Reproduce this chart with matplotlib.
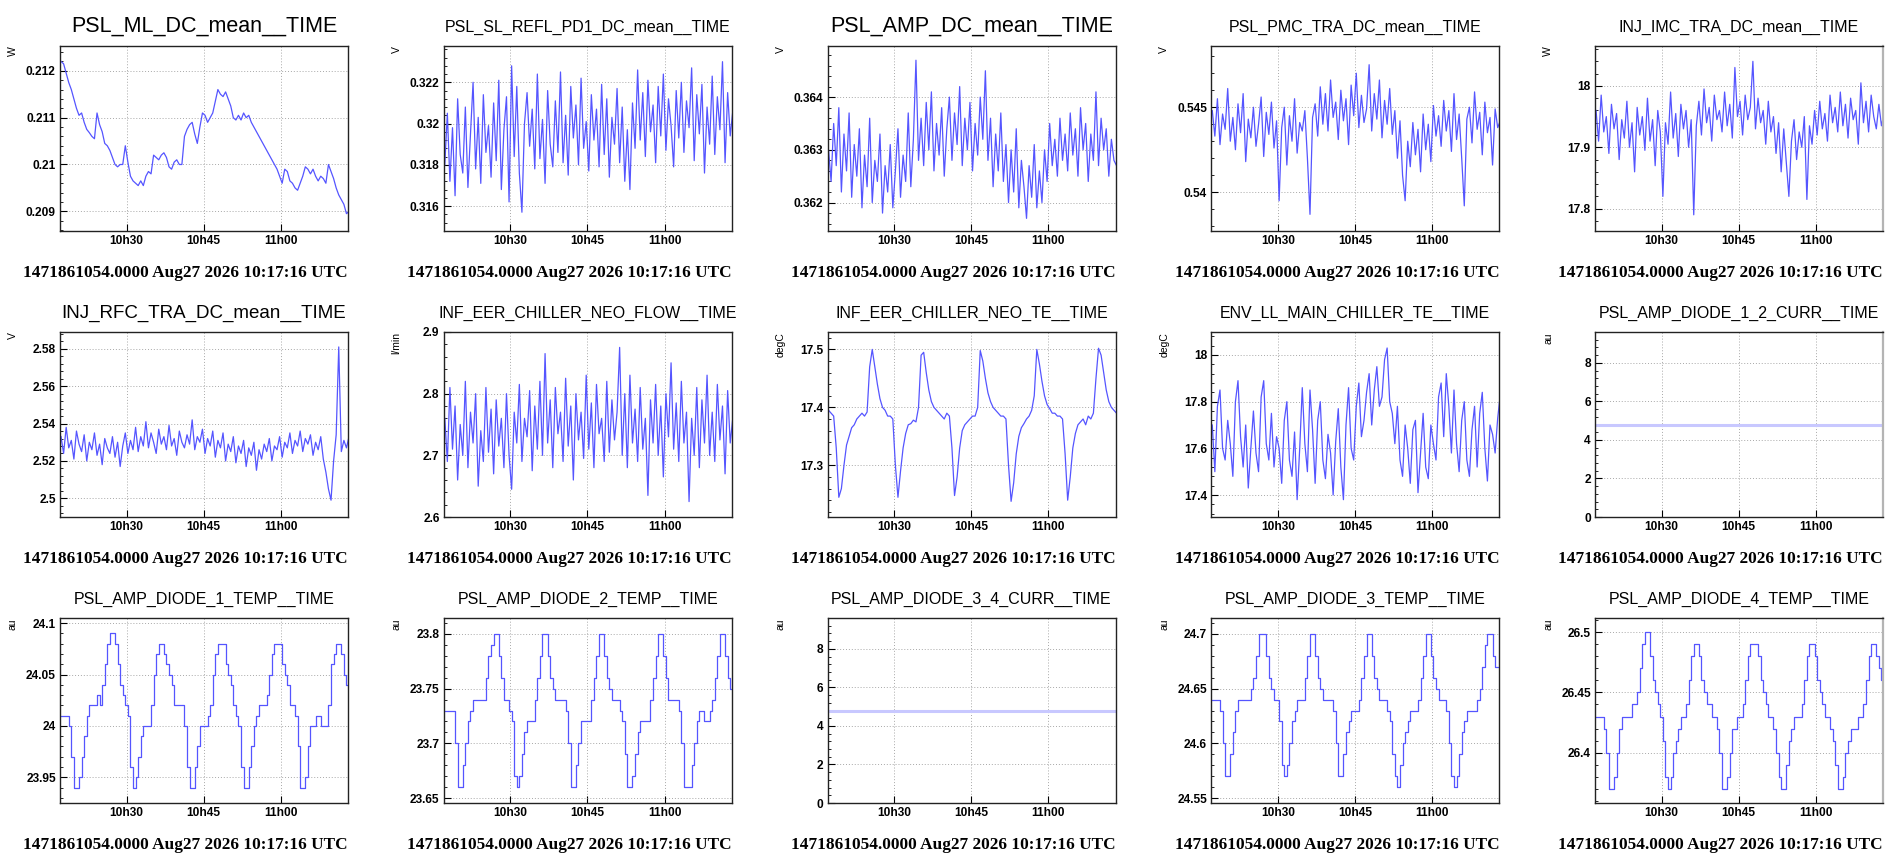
import numpy as np
import matplotlib
matplotlib.use("Agg")
from matplotlib import pyplot as plt
from matplotlib.ticker import FixedLocator, AutoMinorLocator

W, H = 1897, 860
footer = "1471861054.0000 Aug27 2026 10:17:16 UTC"
start_time = (10, 17, 16)
time_ticks = ["10h30", "10h45", "11h00"]

# sample times in minutes after 10:17:16
t = np.arange(0, 56.01, 0.5)

ml_dc = [0.21220, 0.21215, 0.21195, 0.21175, 0.21160, 0.21140, 0.21120, 0.21105, 0.21110, 0.21090,
         0.21075, 0.21068, 0.21060, 0.21055, 0.21110, 0.21085, 0.21070, 0.21045, 0.21040, 0.21030,
         0.21015, 0.21000, 0.20995, 0.21000, 0.21000, 0.21040, 0.21005, 0.20975, 0.20965, 0.20960,
         0.20955, 0.20965, 0.20955, 0.20975, 0.20985, 0.20980, 0.21020, 0.21015, 0.21010, 0.21020,
         0.21025, 0.21015, 0.20995, 0.20990, 0.21005, 0.21010, 0.21000, 0.21000, 0.21060, 0.21075,
         0.21085, 0.21090, 0.21065, 0.21045, 0.21080, 0.21110, 0.21105, 0.21090, 0.21100, 0.21110,
         0.21135, 0.21160, 0.21150, 0.21145, 0.21155, 0.21140, 0.21125, 0.21100, 0.21095, 0.21105,
         0.21095, 0.21110, 0.21100, 0.21105, 0.21090, 0.21080, 0.21070, 0.21060, 0.21050, 0.21040,
         0.21030, 0.21020, 0.21010, 0.21000, 0.20990, 0.20975, 0.20960, 0.20990, 0.20985, 0.20965,
         0.20960, 0.20950, 0.20945, 0.20960, 0.20975, 0.20995, 0.20990, 0.20980, 0.20990, 0.20975,
         0.20965, 0.20975, 0.20970, 0.20960, 0.21000, 0.20985, 0.20970, 0.20950, 0.20935, 0.20925,
         0.20915, 0.20895, 0.20900]

sl_refl = [0.3180, 0.3205, 0.3172, 0.3198, 0.3165, 0.3212, 0.3185, 0.3176, 0.3208, 0.3169,
           0.3195, 0.3220, 0.3178, 0.3203, 0.3171, 0.3214, 0.3186, 0.3199, 0.3174, 0.3210,
           0.3182, 0.3221, 0.3168, 0.3197, 0.3213, 0.3162, 0.3228, 0.3184, 0.3218, 0.3176,
           0.3157, 0.3200, 0.3215, 0.3189, 0.3207, 0.3178, 0.3224, 0.3183, 0.3202, 0.3171,
           0.3216, 0.3190, 0.3179, 0.3211, 0.3186, 0.3225, 0.3181, 0.3204, 0.3175, 0.3218,
           0.3193, 0.3209, 0.3180, 0.3222, 0.3188, 0.3201, 0.3177, 0.3214, 0.3192, 0.3207,
           0.3179, 0.3219, 0.3185, 0.3212, 0.3174, 0.3203, 0.3190, 0.3217, 0.3181, 0.3208,
           0.3172, 0.3197, 0.3168, 0.3210, 0.3188, 0.3226, 0.3192, 0.3215, 0.3184, 0.3221,
           0.3196, 0.3209, 0.3181, 0.3218, 0.3194, 0.3224, 0.3187, 0.3212, 0.3199, 0.3179,
           0.3216, 0.3193, 0.3220, 0.3186, 0.3211, 0.3198, 0.3227, 0.3182, 0.3214, 0.3195,
           0.3219, 0.3176, 0.3208, 0.3190, 0.3223, 0.3185, 0.3213, 0.3197, 0.3230, 0.3181,
           0.3215, 0.3194, 0.3206]

amp_dc = [0.3630, 0.3624, 0.3635, 0.3627, 0.3638, 0.3622, 0.3633, 0.3626, 0.3637, 0.3621,
          0.3631, 0.3625, 0.3634, 0.3619, 0.3629, 0.3623, 0.3636, 0.3620, 0.3628, 0.3624,
          0.3633, 0.3618, 0.3627, 0.3622, 0.3631, 0.3619, 0.3626, 0.3634, 0.3621, 0.3629,
          0.3624, 0.3637, 0.3623, 0.3632, 0.3647, 0.3628, 0.3636, 0.3627, 0.3639, 0.3630,
          0.3641, 0.3626, 0.3635, 0.3629, 0.3638, 0.3625, 0.3634, 0.3640, 0.3628, 0.3637,
          0.3631, 0.3642, 0.3627, 0.3636, 0.3630, 0.3639, 0.3626, 0.3635, 0.3629, 0.3640,
          0.3632, 0.3645, 0.3628, 0.3636, 0.3623, 0.3633, 0.3626, 0.3637, 0.3624, 0.3631,
          0.3620, 0.3630, 0.3622, 0.3634, 0.3619, 0.3628, 0.3623, 0.3617, 0.3627, 0.3621,
          0.3631, 0.3619, 0.3626, 0.3620, 0.3630, 0.3624, 0.3635, 0.3627, 0.3632, 0.3625,
          0.3636, 0.3628, 0.3633, 0.3626, 0.3637, 0.3629, 0.3634, 0.3625, 0.3638, 0.3630,
          0.3635, 0.3624, 0.3633, 0.3628, 0.3641, 0.3627, 0.3636, 0.3630, 0.3634, 0.3625,
          0.3632, 0.3628, 0.3627]

pmc_tra = [0.5448, 0.5433, 0.5455, 0.5428, 0.5446, 0.5437, 0.5461, 0.5430, 0.5444, 0.5425,
           0.5452, 0.5435, 0.5458, 0.5418, 0.5443, 0.5432, 0.5450, 0.5427, 0.5440, 0.5456,
           0.5421, 0.5447, 0.5434, 0.5453, 0.5426, 0.5442, 0.5395, 0.5438, 0.5450, 0.5416,
           0.5445, 0.5430, 0.5455, 0.5423, 0.5441, 0.5436, 0.5448, 0.5420, 0.5387, 0.5444,
           0.5452, 0.5433, 0.5462, 0.5440, 0.5458, 0.5436, 0.5466, 0.5444, 0.5453, 0.5431,
           0.5460, 0.5442, 0.5455, 0.5428, 0.5463, 0.5445, 0.5470, 0.5438, 0.5457, 0.5441,
           0.5449, 0.5475, 0.5436, 0.5458, 0.5443, 0.5466, 0.5432, 0.5454, 0.5440, 0.5461,
           0.5434, 0.5448, 0.5420, 0.5442, 0.5410, 0.5395, 0.5430, 0.5415, 0.5441, 0.5422,
           0.5437, 0.5412, 0.5446, 0.5425, 0.5440, 0.5418, 0.5451, 0.5433, 0.5445, 0.5427,
           0.5454, 0.5436, 0.5448, 0.5424, 0.5458, 0.5431, 0.5446, 0.5420, 0.5392, 0.5443,
           0.5450, 0.5429, 0.5459, 0.5437, 0.5447, 0.5422, 0.5453, 0.5435, 0.5444, 0.5416,
           0.5449, 0.5438, 0.5442]

imc_tra = [17.960, 17.910, 17.985, 17.925, 17.950, 17.890, 17.970, 17.930, 17.955, 17.880,
           17.945, 17.915, 17.975, 17.900, 17.940, 17.860, 17.965, 17.920, 17.950, 17.895,
           17.980, 17.910, 17.945, 17.870, 17.960, 17.925, 17.820, 17.940, 17.905, 17.990,
           17.915, 17.955, 17.885, 17.970, 17.930, 17.960, 17.900, 17.945, 17.790, 17.935,
           17.975, 17.920, 17.995, 17.940, 17.965, 17.910, 17.985, 17.945, 17.960, 17.925,
           17.990, 17.935, 17.970, 17.915, 18.030, 17.950, 17.975, 17.920, 17.985, 17.945,
           17.965, 18.040, 17.930, 17.980, 17.940, 17.960, 17.905, 17.975, 17.925, 17.950,
           17.890, 17.940, 17.860, 17.930, 17.875, 17.820, 17.910, 17.945, 17.880, 17.925,
           17.900, 17.950, 17.815, 17.935, 17.905, 17.960, 17.920, 17.975, 17.930, 17.955,
           17.910, 17.985, 17.940, 17.965, 17.925, 17.990, 17.935, 17.970, 17.915, 17.980,
           17.945, 17.960, 17.905, 18.005, 17.940, 17.975, 17.925, 17.985, 17.950, 17.930,
           17.970, 17.935, 17.955]

rfc_tra = [2.533, 2.524, 2.538, 2.527, 2.531, 2.521, 2.536, 2.529, 2.525, 2.534,
           2.520, 2.530, 2.526, 2.535, 2.523, 2.529, 2.518, 2.532, 2.527, 2.524,
           2.533, 2.522, 2.530, 2.517, 2.528, 2.535, 2.524, 2.531, 2.526, 2.538,
           2.525, 2.533, 2.528, 2.541, 2.527, 2.535, 2.530, 2.524, 2.537, 2.529,
           2.533, 2.526, 2.539, 2.528, 2.532, 2.523, 2.536, 2.530, 2.527, 2.534,
           2.529, 2.542, 2.526, 2.533, 2.530, 2.537, 2.524, 2.532, 2.528, 2.536,
           2.522, 2.531, 2.527, 2.535, 2.520, 2.529, 2.525, 2.533, 2.519, 2.528,
           2.524, 2.531, 2.517, 2.527, 2.523, 2.530, 2.515, 2.526, 2.521, 2.529,
           2.525, 2.532, 2.520, 2.528, 2.526, 2.533, 2.522, 2.530, 2.527, 2.535,
           2.524, 2.531, 2.528, 2.536, 2.525, 2.532, 2.529, 2.534, 2.523, 2.530,
           2.526, 2.533, 2.521, 2.514, 2.505, 2.499, 2.520, 2.534, 2.581, 2.525,
           2.531, 2.527, 2.533]

neo_flow = [2.760, 2.690, 2.810, 2.710, 2.780, 2.660, 2.750, 2.700, 2.820, 2.680,
            2.770, 2.720, 2.800, 2.650, 2.740, 2.690, 2.810, 2.705, 2.775, 2.670,
            2.790, 2.715, 2.760, 2.680, 2.800, 2.700, 2.645, 2.770, 2.720, 2.815,
            2.690, 2.760, 2.730, 2.805, 2.675, 2.780, 2.710, 2.820, 2.700, 2.865,
            2.720, 2.790, 2.680, 2.810, 2.735, 2.770, 2.690, 2.825, 2.715, 2.780,
            2.660, 2.800, 2.725, 2.770, 2.695, 2.830, 2.710, 2.785, 2.680, 2.815,
            2.735, 2.760, 2.690, 2.820, 2.705, 2.790, 2.725, 2.770, 2.875, 2.700,
            2.800, 2.680, 2.830, 2.720, 2.775, 2.690, 2.810, 2.710, 2.760, 2.635,
            2.790, 2.720, 2.815, 2.700, 2.780, 2.665, 2.800, 2.730, 2.850, 2.710,
            2.785, 2.690, 2.820, 2.720, 2.770, 2.625, 2.760, 2.700, 2.810, 2.680,
            2.790, 2.720, 2.830, 2.700, 2.770, 2.690, 2.815, 2.725, 2.780, 2.670,
            2.805, 2.720, 2.760]

neo_te = [17.395, 17.390, 17.385, 17.330, 17.245, 17.260, 17.300, 17.335, 17.350, 17.365,
          17.370, 17.380, 17.385, 17.390, 17.385, 17.392, 17.470, 17.500, 17.470, 17.440,
          17.415, 17.400, 17.395, 17.385, 17.385, 17.380, 17.300, 17.245, 17.290, 17.330,
          17.355, 17.370, 17.372, 17.378, 17.375, 17.400, 17.490, 17.495, 17.460, 17.430,
          17.410, 17.400, 17.395, 17.390, 17.385, 17.380, 17.390, 17.385, 17.330, 17.248,
          17.280, 17.330, 17.360, 17.370, 17.375, 17.380, 17.385, 17.385, 17.400, 17.498,
          17.480, 17.450, 17.425, 17.410, 17.400, 17.395, 17.390, 17.385, 17.385, 17.380,
          17.300, 17.238, 17.270, 17.320, 17.350, 17.365, 17.372, 17.380, 17.385, 17.395,
          17.420, 17.500, 17.475, 17.445, 17.420, 17.405, 17.398, 17.390, 17.390, 17.385,
          17.385, 17.380, 17.320, 17.240, 17.280, 17.330, 17.355, 17.370, 17.375, 17.380,
          17.370, 17.385, 17.380, 17.390, 17.450, 17.502, 17.490, 17.460, 17.430, 17.410,
          17.400, 17.395, 17.390]

main_chiller_te = [17.70, 17.50, 17.78, 17.85, 17.60, 17.55, 17.72, 17.62, 17.48, 17.80,
                   17.89, 17.65, 17.52, 17.70, 17.43, 17.60, 17.76, 17.58, 17.50, 17.82,
                   17.89, 17.62, 17.55, 17.75, 17.52, 17.65, 17.60, 17.45, 17.72, 17.80,
                   17.55, 17.48, 17.67, 17.38, 17.60, 17.86, 17.62, 17.50, 17.85, 17.68,
                   17.45, 17.72, 17.80, 17.55, 17.47, 17.66, 17.58, 17.40, 17.63, 17.77,
                   17.52, 17.38, 17.70, 17.86, 17.60, 17.55, 17.78, 17.88, 17.65, 17.72,
                   17.84, 17.92, 17.70, 17.85, 17.95, 17.78, 17.82, 17.98, 18.03, 17.80,
                   17.75, 17.62, 17.78, 17.55, 17.48, 17.70, 17.60, 17.45, 17.68, 17.72,
                   17.41, 17.58, 17.75, 17.52, 17.47, 17.70, 17.62, 17.55, 17.82, 17.88,
                   17.65, 17.92, 17.78, 17.58, 17.85, 17.62, 17.50, 17.72, 17.80, 17.55,
                   17.48, 17.68, 17.78, 17.52, 17.75, 17.84, 17.60, 17.46, 17.70, 17.66,
                   17.58, 17.73, 17.83]

diode_12_curr = [4.8, 4.8]
diode_34_curr = [4.8, 4.8]
curr_t = [0, 56]

diode_1_temp = [24.01, 24.01, 24.01, 24.00, 23.97, 23.94, 23.94, 23.95, 23.97, 23.99,
                24.01, 24.02, 24.02, 24.02, 24.03, 24.02, 24.04, 24.06, 24.08, 24.09,
                24.09, 24.08, 24.06, 24.04, 24.03, 24.02, 24.01, 23.96, 23.94, 23.95,
                23.97, 23.99, 24.00, 24.00, 24.00, 24.02, 24.05, 24.07, 24.08, 24.08,
                24.07, 24.06, 24.05, 24.04, 24.02, 24.02, 24.02, 24.02, 24.00, 23.96,
                23.94, 23.94, 23.96, 23.98, 24.00, 24.00, 24.00, 24.01, 24.02, 24.05,
                24.07, 24.08, 24.08, 24.08, 24.06, 24.05, 24.04, 24.02, 24.01, 24.00,
                23.96, 23.94, 23.94, 23.96, 23.98, 24.00, 24.01, 24.02, 24.02, 24.02,
                24.03, 24.05, 24.07, 24.08, 24.08, 24.08, 24.06, 24.05, 24.04, 24.02,
                24.02, 24.01, 23.98, 23.94, 23.94, 23.95, 23.98, 24.00, 24.00, 24.01,
                24.01, 24.00, 24.00, 24.00, 24.02, 24.06, 24.07, 24.08, 24.08, 24.07,
                24.05, 24.04, 24.03]

diode_2_temp = [23.73, 23.73, 23.73, 23.73, 23.70, 23.66, 23.66, 23.68, 23.70, 23.72,
                23.73, 23.74, 23.74, 23.74, 23.74, 23.74, 23.76, 23.78, 23.79, 23.80,
                23.80, 23.78, 23.76, 23.74, 23.74, 23.73, 23.72, 23.67, 23.66, 23.67,
                23.69, 23.71, 23.72, 23.72, 23.72, 23.74, 23.76, 23.78, 23.80, 23.80,
                23.78, 23.76, 23.75, 23.74, 23.74, 23.74, 23.74, 23.73, 23.70, 23.66,
                23.66, 23.68, 23.70, 23.72, 23.72, 23.72, 23.72, 23.74, 23.76, 23.78,
                23.80, 23.80, 23.78, 23.76, 23.75, 23.74, 23.74, 23.74, 23.73, 23.72,
                23.69, 23.66, 23.66, 23.67, 23.69, 23.71, 23.72, 23.72, 23.72, 23.72,
                23.74, 23.76, 23.78, 23.80, 23.80, 23.78, 23.76, 23.74, 23.74, 23.74,
                23.74, 23.73, 23.70, 23.66, 23.66, 23.66, 23.68, 23.70, 23.72, 23.73,
                23.73, 23.72, 23.72, 23.73, 23.74, 23.76, 23.78, 23.80, 23.80, 23.78,
                23.76, 23.75, 23.75]

diode_3_temp = [24.64, 24.64, 24.64, 24.63, 24.60, 24.57, 24.57, 24.59, 24.61, 24.63,
                24.64, 24.64, 24.64, 24.64, 24.64, 24.65, 24.66, 24.68, 24.70, 24.70,
                24.70, 24.68, 24.66, 24.65, 24.64, 24.64, 24.62, 24.58, 24.57, 24.58,
                24.60, 24.62, 24.63, 24.64, 24.64, 24.64, 24.66, 24.68, 24.70, 24.70,
                24.68, 24.66, 24.65, 24.64, 24.64, 24.64, 24.64, 24.63, 24.60, 24.57,
                24.57, 24.59, 24.61, 24.62, 24.63, 24.63, 24.63, 24.64, 24.66, 24.68,
                24.70, 24.70, 24.68, 24.66, 24.65, 24.64, 24.64, 24.64, 24.63, 24.62,
                24.59, 24.57, 24.56, 24.58, 24.60, 24.61, 24.62, 24.63, 24.63, 24.63,
                24.64, 24.66, 24.68, 24.70, 24.70, 24.68, 24.66, 24.65, 24.64, 24.64,
                24.64, 24.63, 24.60, 24.57, 24.56, 24.57, 24.59, 24.61, 24.62, 24.63,
                24.63, 24.63, 24.63, 24.64, 24.65, 24.67, 24.69, 24.70, 24.70, 24.68,
                24.67, 24.67, 24.67]

diode_4_temp = [26.43, 26.43, 26.43, 26.42, 26.40, 26.37, 26.37, 26.38, 26.40, 26.42,
                26.43, 26.43, 26.43, 26.43, 26.44, 26.44, 26.45, 26.47, 26.49, 26.50,
                26.50, 26.48, 26.46, 26.45, 26.44, 26.43, 26.41, 26.38, 26.37, 26.38,
                26.40, 26.41, 26.42, 26.43, 26.43, 26.44, 26.46, 26.48, 26.49, 26.49,
                26.48, 26.46, 26.45, 26.44, 26.44, 26.43, 26.43, 26.42, 26.40, 26.37,
                26.37, 26.38, 26.40, 26.42, 26.42, 26.43, 26.43, 26.44, 26.46, 26.48,
                26.49, 26.49, 26.49, 26.48, 26.46, 26.45, 26.44, 26.43, 26.43, 26.42,
                26.40, 26.38, 26.37, 26.37, 26.39, 26.41, 26.42, 26.43, 26.43, 26.43,
                26.44, 26.46, 26.48, 26.49, 26.49, 26.48, 26.46, 26.45, 26.44, 26.43,
                26.43, 26.42, 26.41, 26.39, 26.37, 26.37, 26.38, 26.40, 26.41, 26.42,
                26.42, 26.42, 26.43, 26.43, 26.44, 26.46, 26.48, 26.49, 26.49, 26.48,
                26.47, 26.46, 26.46]

titles = ["PSL_ML_DC_mean__TIME", "PSL_SL_REFL_PD1_DC_mean__TIME", "PSL_AMP_DC_mean__TIME",
          "PSL_PMC_TRA_DC_mean__TIME", "INJ_IMC_TRA_DC_mean__TIME",
          "INJ_RFC_TRA_DC_mean__TIME", "INF_EER_CHILLER_NEO_FLOW__TIME", "INF_EER_CHILLER_NEO_TE__TIME",
          "ENV_LL_MAIN_CHILLER_TE__TIME", "PSL_AMP_DIODE_1_2_CURR__TIME",
          "PSL_AMP_DIODE_1_TEMP__TIME", "PSL_AMP_DIODE_2_TEMP__TIME", "PSL_AMP_DIODE_3_4_CURR__TIME",
          "PSL_AMP_DIODE_3_TEMP__TIME", "PSL_AMP_DIODE_4_TEMP__TIME"]
units = ["W", "V", "V", "V", "W",
         "V", "l/min", "degC", "degC", "au",
         "au", "au", "au", "au", "au"]

# (y values, kind, ylim, major step, title size)
panels = [
    (ml_dc, "line", (0.20858, 0.21253), 0.001, 15.5),
    (sl_refl, "line", (0.31479, 0.32376), 0.002, 11.5),
    (amp_dc, "line", (0.36146, 0.36497), 0.001, 15.5),
    (pmc_tra, "line", (0.53772, 0.54860), 0.005, 11.5),
    (imc_tra, "line", (17.7636, 18.065), 0.1, 11.5),
    (rfc_tra, "line", (2.490, 2.589), 0.02, 13.5),
    (neo_flow, "line", (2.6, 2.9), 0.1, 11.5),
    (neo_te, "line", (17.211, 17.530), 0.1, 11.5),
    (main_chiller_te, "line", (17.3058, 18.0985), 0.2, 11.5),
    (diode_12_curr, "const", (0, 9.6), 2, 11.5),
    (diode_1_temp, "step", (23.925, 24.105), 0.05, 11.5),
    (diode_2_temp, "step", (23.6457, 23.8143), 0.05, 11.5),
    (diode_34_curr, "const", (0, 9.6), 2, 11.5),
    (diode_3_temp, "step", (24.5457, 24.7143), 0.05, 11.5),
    (diode_4_temp, "step", (26.358, 26.512), 0.05, 11.5),
]

def minutes(label):
    h, m = label.split("h")
    return (int(h) * 60 + int(m)) - (start_time[0] * 60 + start_time[1] + start_time[2] / 60)

def fx(px):
    return px / W

def fy(py):
    return 1 - py / H

fig = plt.figure(figsize=(W / 100, H / 100), dpi=100)
line_col = "#5555ff"

for i, (vals, kind, ylim, step, tsize) in enumerate(panels):
    r, c = divmod(i, 5)
    left = 60 + c * 383.75
    top = 46 + r * 286
    aw, ah = 288, 185
    ax = fig.add_axes([fx(left), fy(top + ah), aw / W, ah / H])

    if kind == "const":
        ax.plot(curr_t, vals, color="#c8c8ff", lw=2.2)
    elif kind == "step":
        ax.plot(t, vals, color=line_col, lw=0.9, drawstyle="steps-post")
    else:
        ax.plot(t, vals, color=line_col, lw=0.9)

    ax.set_xlim(-0.2, 55.8)
    ax.set_ylim(*ylim)

    xt = [minutes(s) for s in time_ticks]
    ax.set_xticks(xt)
    ax.set_xticklabels(time_ticks, fontweight="bold", fontfamily="Liberation Sans", fontsize=8.6)

    first = np.ceil(ylim[0] / step - 1e-6) * step
    yt = np.round(np.arange(first, ylim[1] + 1e-9, step), 6) + 0.0
    ax.yaxis.set_major_locator(FixedLocator(yt))
    ax.set_yticklabels(["%g" % v for v in yt], fontweight="bold",
                       fontfamily="Liberation Sans", fontsize=8.6)
    ax.yaxis.set_minor_locator(AutoMinorLocator(5))

    ax.tick_params(which="major", direction="in", length=5, width=0.8, top=False, right=False, pad=3)
    ax.tick_params(which="minor", direction="in", length=2.5, width=0.6, top=False, right=False)
    ax.tick_params(axis="x", which="minor", bottom=False)
    ax.grid(True, which="major", color="#a8a8a8", linestyle=(0, (1, 2)), linewidth=0.7)
    for sp in ax.spines.values():
        sp.set_linewidth(1.0)
        sp.set_color("#222222")
    if c == 4:
        ax.spines["right"].set_color("#b4b4b4")
        ax.spines["right"].set_linewidth(1.6)

    cx = left + aw / 2
    fig.text(fx(cx), fy(top - 14), titles[i], ha="center", va="baseline",
             fontsize=tsize, fontfamily="Liberation Sans")
    fig.text(fx(left - 47), fy(top), units[i], rotation=90, ha="center", va="top",
             fontsize=7.5, fontfamily="Liberation Sans")
    fig.text(fx(left + aw), fy(top + ah + 45.7), footer, ha="right", va="baseline",
             fontsize=12.4, fontweight="bold", fontfamily="Liberation Serif")

fig.savefig("out.png", dpi=100)
